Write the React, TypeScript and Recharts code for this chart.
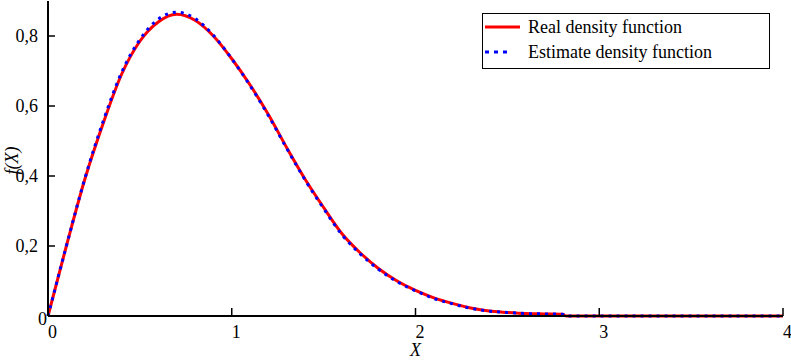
import { Line, LineChart, XAxis, YAxis } from "recharts";

const xValues = [
  0, 0.1, 0.2, 0.3, 0.4, 0.5, 0.6, 0.7, 0.8, 0.9, 1.0, 1.1, 1.2, 1.3, 1.4, 1.5, 1.6, 1.7, 1.8,
  1.9, 2.0, 2.1, 2.2, 2.3, 2.4, 2.5, 2.6, 2.7, 2.8, 2.82, 3.0, 3.5, 4.0,
];
const realDensity = [
  0, 0.2, 0.39, 0.55, 0.69, 0.785, 0.84, 0.862, 0.845, 0.8, 0.735, 0.66, 0.575, 0.48, 0.39, 0.31,
  0.235, 0.18, 0.135, 0.1, 0.073, 0.052, 0.036, 0.023, 0.014, 0.01, 0.007, 0.006, 0.005, 0, 0, 0, 0,
];
const estimateDensity = [
  0, 0.2, 0.392, 0.556, 0.695, 0.79, 0.848, 0.868, 0.85, 0.802, 0.735, 0.658, 0.572, 0.478, 0.388,
  0.307, 0.232, 0.177, 0.133, 0.098, 0.072, 0.05, 0.035, 0.022, 0.014, 0.01, 0.007, 0.006, 0.005, 0,
  0, 0, 0,
];
const xTicks = [0, 1, 2, 3, 4];
const yTicks = [0, 0.2, 0.4, 0.6, 0.8];

const FONT = "Liberation Serif, Times New Roman, DejaVu Serif, serif";

const data = xValues.map((x, i) => ({ x, real: realDensity[i], estimate: estimateDensity[i] }));

const fmtY = (v: number) => (v === 0 ? "0" : v.toFixed(1).replace(".", ","));

function BottomTick({ x, y, payload }: any) {
  return (
    <g>
      <line x1={x} y1={y} x2={x} y2={y - 8} stroke="#000" strokeWidth={1.5} />
      <text x={x} y={y + 22} textAnchor="start" style={{ fontFamily: FONT, fontSize: 18 }} fill="#000">
        {payload.value}
      </text>
    </g>
  );
}

function TopTick({ x, y }: any) {
  return <line x1={x} y1={y} x2={x} y2={y + 8} stroke="#000" strokeWidth={1.5} />;
}

function LeftTick({ x, y, payload }: any) {
  const zero = payload.value === 0;
  return (
    <g>
      <line x1={x} y1={y} x2={x + 7} y2={y} stroke="#000" strokeWidth={1.5} />
      <text
        x={zero ? x - 1 : x - 10}
        y={zero ? y + 9 : y + 6}
        textAnchor="end"
        style={{ fontFamily: FONT, fontSize: 18 }}
        fill="#000"
      >
        {fmtY(payload.value)}
      </text>
    </g>
  );
}

function RightTick({ x, y }: any) {
  return <line x1={x} y1={y} x2={x - 8} y2={y} stroke="#000" strokeWidth={1.5} />;
}

function LegendBox() {
  return (
    <div
      style={{
        position: "absolute",
        left: 482,
        top: 13,
        width: 286,
        height: 54,
        border: "1.5px solid #000",
        background: "#fff",
        fontFamily: FONT,
        fontSize: 18,
        color: "#000",
        lineHeight: "normal",
      }}
    >
      <div style={{ display: "flex", alignItems: "center", height: 24, marginTop: 1 }}>
        <svg width={45} height={10}>
          <line x1={2} y1={5} x2={37} y2={5} stroke="#ff0000" strokeWidth={3} />
        </svg>
        <span>Real density function</span>
      </div>
      <div style={{ display: "flex", alignItems: "center", height: 26 }}>
        <svg width={45} height={10}>
          <line x1={2} y1={5} x2={27} y2={5} stroke="#0000ff" strokeWidth={3} strokeDasharray="4 5" />
        </svg>
        <span>Estimate density function</span>
      </div>
    </div>
  );
}

export default function App() {
  return (
    <div style={{ position: "absolute", left: 0, top: 0, width: 791, height: 361, background: "#fff" }}>
      <LineChart width={791} height={361} data={data} margin={{ top: 1, right: 8, bottom: 0, left: 0 }}>
        <XAxis
          xAxisId="bottom"
          dataKey="x"
          type="number"
          domain={[0, 4]}
          ticks={xTicks}
          height={45}
          tickSize={0}
          tickMargin={0}
          axisLine={{ stroke: "#000", strokeWidth: 2 }}
          tickLine={false}
          tick={(p: any) => <BottomTick {...p} />}
          label={{
            value: "X",
            position: "insideBottom",
            offset: 5,
            style: { fontFamily: FONT, fontSize: 18, fontStyle: "italic", fill: "#000" },
          }}
        />
        <XAxis
          xAxisId="top"
          orientation="top"
          dataKey="x"
          type="number"
          domain={[0, 4]}
          ticks={xTicks}
          height={0}
          tickSize={0}
          tickMargin={0}
          axisLine={{ stroke: "#000", strokeWidth: 2 }}
          tickLine={false}
          tick={(p: any) => <TopTick {...p} />}
        />
        <YAxis
          yAxisId="left"
          type="number"
          domain={[0, 0.9]}
          ticks={yTicks}
          width={48}
          tickSize={0}
          tickMargin={0}
          axisLine={{ stroke: "#000", strokeWidth: 2 }}
          tickLine={false}
          tick={(p: any) => <LeftTick {...p} />}
          label={{
            content: ({ viewBox }: any) => {
              const cx = viewBox.x + 12;
              const cy = viewBox.y + viewBox.height / 2 + 2;
              return (
                <text
                  x={cx}
                  y={cy}
                  transform={`rotate(-90, ${cx}, ${cy})`}
                  textAnchor="middle"
                  dominantBaseline="central"
                  style={{ fontFamily: FONT, fontSize: 18, fontStyle: "italic" }}
                  fill="#000"
                >
                  f(X)
                </text>
              );
            },
          }}
        />
        <YAxis
          yAxisId="right"
          orientation="right"
          type="number"
          domain={[0, 0.9]}
          ticks={yTicks}
          width={0}
          tickSize={0}
          tickMargin={0}
          axisLine={{ stroke: "#000", strokeWidth: 2 }}
          tickLine={false}
          tick={(p: any) => <RightTick {...p} />}
        />
        <Line
          xAxisId="bottom"
          yAxisId="left"
          type="monotone"
          dataKey="real"
          stroke="#ff0000"
          strokeWidth={3}
          dot={false}
          isAnimationActive={false}
        />
        <Line
          xAxisId="bottom"
          yAxisId="left"
          type="monotone"
          dataKey="estimate"
          stroke="#0000ff"
          strokeWidth={3}
          strokeDasharray="3 5"
          dot={false}
          isAnimationActive={false}
        />
      </LineChart>
      <LegendBox />
    </div>
  );
}
